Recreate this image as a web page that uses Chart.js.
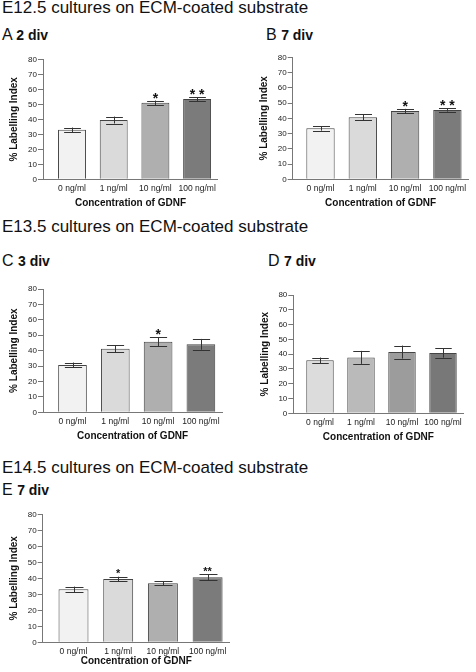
<!DOCTYPE html>
<html><head><meta charset="utf-8">
<script src="https://cdn.jsdelivr.net/npm/chart.js@4.4.1/dist/chart.umd.min.js"></script>
<style>
html,body{margin:0;padding:0;background:#fff;}
body{width:476px;height:672px;position:relative;overflow:hidden;font-family:"Liberation Sans",Arial,sans-serif;color:#111;}
.sec{position:absolute;left:2px;font-size:17px;line-height:17px;white-space:nowrap;}
.pl{position:absolute;font-size:16px;line-height:16px;white-space:nowrap;}
.pl b{font-size:14px;}
canvas{position:absolute;}
</style>
</head><body>
<div class="sec" style="top:-1px">E12.5 cultures on ECM-coated substrate</div>
<div class="pl" style="left:2px;top:26.5px">A <b>2 div</b></div>
<div class="pl" style="left:266px;top:26.5px">B <b>7 div</b></div>
<div class="sec" style="top:217.5px">E13.5 cultures on ECM-coated substrate</div>
<div class="pl" style="left:2px;top:253px">C <b>3 div</b></div>
<div class="pl" style="left:268px;top:253px">D <b>7 div</b></div>
<div class="sec" style="top:459px">E14.5 cultures on ECM-coated substrate</div>
<div class="pl" style="left:2px;top:481.5px">E <b>7 div</b></div>
<canvas id="cA"></canvas><canvas id="cB"></canvas><canvas id="cC"></canvas><canvas id="cD"></canvas><canvas id="cE"></canvas>
<script>
// ---- data ----
const categories = ['0 ng/ml', '1 ng/ml', '10 ng/ml', '100 ng/ml'];
const yTickValues = [0, 10, 20, 30, 40, 50, 60, 70, 80];
const yAxisTitle = '% Labelling Index';
const xAxisTitle = 'Concentration of GDNF';

const valuesA = [33.0, 39.5, 51.0, 53.5];
const errorsA = [1.5, 2.3, 1.5, 1.3];
const starsA  = ['', '', '*', '* *'];

const valuesB = [33.4, 40.7, 44.8, 45.5];
const errorsB = [1.5, 2.0, 1.4, 1.1];
const starsB  = ['', '', '*', '* *'];

const valuesC = [30.7, 41.3, 45.8, 44.1];
const errorsC = [1.6, 2.2, 2.8, 3.5];
const starsC  = ['', '', '*', ''];

const valuesD = [35.8, 37.8, 41.4, 40.8];
const errorsD = [1.9, 4.4, 4.4, 3.2];
const starsD  = ['', '', '', ''];

const valuesE = [33.1, 39.6, 36.9, 40.6];
const errorsE = [1.7, 1.4, 1.2, 1.8];
const starsE  = ['', '*', '', '**'];

// ---- styles ----
const FONT = '"Liberation Sans", Arial, sans-serif';
const colorsLight = ['#f2f2f2', '#dadada', '#afafaf', '#7b7b7b'];
const colorsD = ['#dcdcdc', '#bababa', '#9c9c9c', '#787878'];

const panels = [
  {id:'cA', left:0,   axisLeft:43,    areaTop:59.3,  areaBottom:179.3, spacing:41.7, c0:72,    vals:valuesA, errs:errorsA, stars:starsA, colors:colorsLight, starSize:14, titleOff:24},
  {id:'cB', left:238, axisLeft:292.7, areaTop:57.3,  areaBottom:179.3, spacing:42.3, c0:320.5, vals:valuesB, errs:errorsB, stars:starsB, colors:colorsLight, starSize:14, titleOff:24},
  {id:'cC', left:0,   axisLeft:43,    areaTop:289,   areaBottom:412.3, spacing:42.8, c0:72.5,  vals:valuesC, errs:errorsC, stars:starsC, colors:colorsLight, starSize:14, titleOff:24},
  {id:'cD', left:238, axisLeft:293.3, areaTop:295,   areaBottom:413.3, spacing:41,   c0:320,   vals:valuesD, errs:errorsD, stars:starsD, colors:colorsD,     starSize:14, titleOff:24},
  {id:'cE', left:0,   axisLeft:42.7,  areaTop:514.3, areaBottom:642.3, spacing:44.7, c0:73.5,  vals:valuesE, errs:errorsE, stars:starsE, colors:colorsLight, starSize:11, titleOff:19}
];

const errorBarPlugin = {
  id: 'errbars',
  afterDatasetsDraw(chart, args, opts) {
    const {ctx} = chart;
    const meta = chart.getDatasetMeta(0);
    const ys = chart.scales.y;
    ctx.save();
    ctx.strokeStyle = '#333';
    ctx.lineWidth = 1;
    meta.data.forEach((bar, i) => {
      const v = opts.vals[i], e = opts.errs[i];
      const yt = ys.getPixelForValue(v + e);
      const yb = ys.getPixelForValue(v - e);
      const hw = bar.width * 0.3;
      const x = Math.round(bar.x) + 0.5;
      ctx.beginPath();
      ctx.moveTo(x, yt); ctx.lineTo(x, yb);
      ctx.moveTo(x - hw, Math.round(yt) + 0.5); ctx.lineTo(x + hw, Math.round(yt) + 0.5);
      ctx.moveTo(x - hw, Math.round(yb) + 0.5); ctx.lineTo(x + hw, Math.round(yb) + 0.5);
      ctx.stroke();
      const s = opts.stars[i];
      if (s) {
        ctx.fillStyle = '#111';
        ctx.font = 'bold ' + opts.starSize + 'px ' + FONT;
        ctx.textAlign = 'center';
        ctx.textBaseline = 'alphabetic';
        ctx.fillText(s, bar.x, yt - 6 + 0.575 * opts.starSize);
      }
    });
    ctx.restore();
  }
};

panels.forEach(p => {
  const xmin = -(p.c0 - p.axisLeft) / p.spacing;
  const xmax = 3.5;
  const areaRight = p.axisLeft + (xmax - xmin) * p.spacing;
  const top = Math.floor(p.areaTop - 15);
  const bottom = Math.min(672, Math.ceil(p.areaBottom + 32));
  const width = Math.ceil(areaRight - p.left + 8);
  const height = bottom - top;
  const cv = document.getElementById(p.id);
  cv.width = width; cv.height = height;
  cv.style.left = p.left + 'px'; cv.style.top = top + 'px';
  const yW = p.axisLeft - p.left;
  const xH = bottom - p.areaBottom;
  new Chart(cv, {
    type: 'bar',
    data: {
      datasets: [{
        data: p.vals.map((v, i) => ({x: i, y: v})),
        backgroundColor: p.colors,
        borderColor: '#444',
        borderWidth: 1,
        barPercentage: 0.67,
        categoryPercentage: 1
      }]
    },
    options: {
      responsive: false,
      animation: false,
      devicePixelRatio: 1,
      layout: {padding: {top: p.areaTop - top, right: width - (areaRight - p.left), left: 0, bottom: 0}},
      plugins: {legend: {display: false}, tooltip: {enabled: false}, errbars: {vals: p.vals, errs: p.errs, stars: p.stars, starSize: p.starSize}},
      scales: {
        x: {
          type: 'linear',
          offset: false,
          min: xmin, max: xmax,
          afterBuildTicks: s => { s.ticks = categories.map((c, i) => ({value: i})); },
          afterFit: s => { s.height = xH; },
          grid: {display: false, drawTicks: false, offset: false},
          border: {display: true, color: '#777', width: 1},
          ticks: {
            autoSkip: false, maxRotation: 0, padding: 4,
            color: '#222', font: {family: FONT, size: 8.5},
            callback: v => categories[v]
          },
          title: {display: true, text: xAxisTitle, color: '#111', font: {family: FONT, size: 10, weight: 'bold'},
                  padding: {top: 0, bottom: xH - 6 - p.titleOff}}
        },
        y: {
          min: 0, max: 80,
          afterBuildTicks: s => { s.ticks = yTickValues.map(v => ({value: v})); },
          afterFit: s => { s.width = yW; },
          grid: {drawOnChartArea: false, drawTicks: true, tickLength: 5, color: '#777'},
          border: {display: true, color: '#777', width: 1},
          ticks: {padding: 1, color: '#222', font: {family: FONT, size: 8}},
          title: {display: true, text: yAxisTitle, color: '#111', font: {family: FONT, size: 10, weight: 'bold'},
                  padding: {top: (p.axisLeft - 28.5) - p.left - 6, bottom: 0}}
        }
      }
    },
    plugins: [errorBarPlugin]
  });
});
</script>
</body></html>
